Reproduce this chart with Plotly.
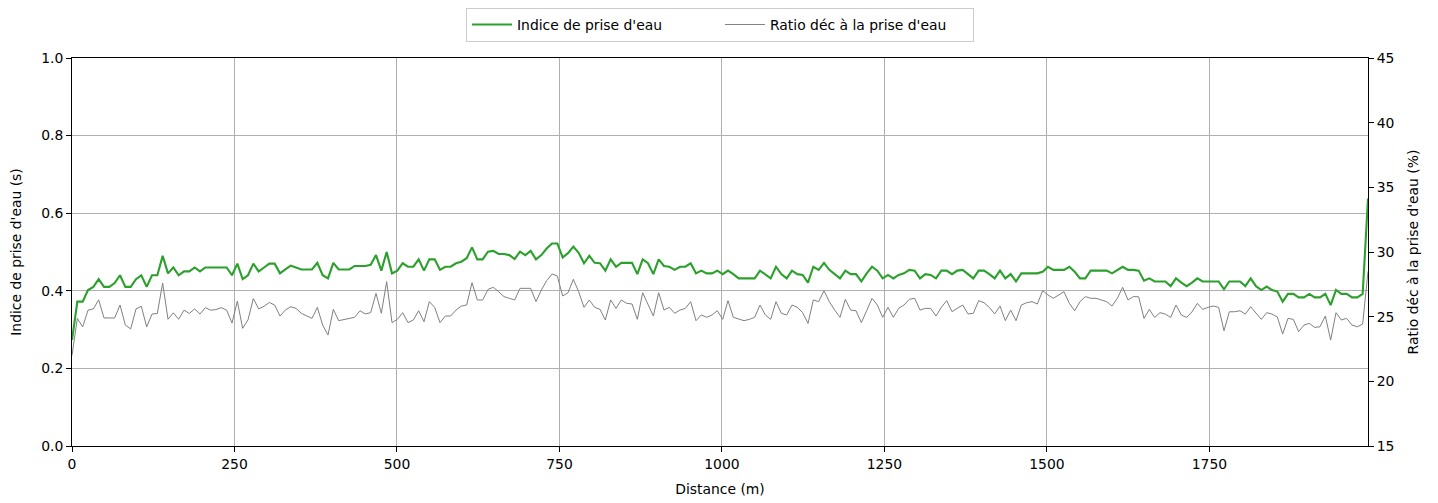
import numpy as np
import plotly.graph_objects as go

# ---- data ----
X_MAX = 1994  # last distance (m)

indice_seg1 = [0.273, 0.372, 0.372, 0.402, 0.41, 0.43, 0.41, 0.41, 0.42, 0.44, 0.41, 0.41, 0.43, 0.44, 0.41,
               0.44, 0.44, 0.49, 0.445, 0.46, 0.44, 0.45, 0.45, 0.46, 0.45, 0.46, 0.46, 0.46, 0.46, 0.46,
               0.44, 0.47, 0.43, 0.44, 0.47, 0.45, 0.46, 0.47, 0.47]
indice_seg2 = [0.445, 0.455, 0.465, 0.46, 0.455, 0.455, 0.455, 0.472, 0.44, 0.432, 0.472, 0.455, 0.455, 0.455,
               0.464, 0.464, 0.464, 0.467, 0.492, 0.452, 0.5, 0.445, 0.452, 0.471, 0.462, 0.462, 0.481, 0.452,
               0.481, 0.481, 0.454, 0.462, 0.462, 0.471, 0.475, 0.484, 0.512, 0.481, 0.481, 0.501]
indice_seg3 = [0.503, 0.495, 0.495, 0.492, 0.482, 0.501, 0.492, 0.503, 0.481, 0.492, 0.509, 0.522, 0.522, 0.486,
               0.497, 0.514, 0.498, 0.471, 0.490, 0.472, 0.471, 0.452, 0.481, 0.462, 0.472, 0.472, 0.472, 0.443,
               0.481, 0.471, 0.443, 0.481, 0.464, 0.462, 0.454, 0.462, 0.462, 0.471, 0.445, 0.452]
indice_seg4 = [0.445, 0.445, 0.452, 0.443, 0.452, 0.443, 0.432, 0.432, 0.432, 0.432, 0.452, 0.443, 0.432, 0.462,
               0.443, 0.432, 0.452, 0.443, 0.441, 0.421, 0.462, 0.454, 0.472, 0.454, 0.443, 0.432, 0.452, 0.443,
               0.443, 0.424, 0.445, 0.462, 0.452, 0.432, 0.441, 0.432, 0.441, 0.445, 0.454, 0.452, 0.432]
indice_seg5 = [0.443, 0.441, 0.432, 0.452, 0.452, 0.443, 0.452, 0.454, 0.443, 0.432, 0.452, 0.452, 0.443, 0.432,
               0.452, 0.432, 0.443, 0.424, 0.445, 0.445, 0.445, 0.445, 0.449, 0.462, 0.454, 0.454, 0.454, 0.462,
               0.449, 0.432, 0.432, 0.452, 0.452, 0.452, 0.452, 0.445, 0.454, 0.462, 0.454, 0.454]
indice_seg6 = [0.452, 0.426, 0.432, 0.424, 0.424, 0.424, 0.412, 0.432, 0.421, 0.412, 0.421, 0.432, 0.424, 0.424,
               0.424, 0.424, 0.404, 0.424, 0.424, 0.424, 0.412, 0.432, 0.412, 0.402, 0.411, 0.402, 0.398, 0.372,
               0.392, 0.392, 0.383, 0.383, 0.392, 0.383, 0.383, 0.392, 0.363, 0.402, 0.392, 0.392, 0.383, 0.383,
               0.392, 0.638]

ratio_seg1 = [22.0, 24.87, 24.2, 25.5, 25.6, 26.3, 24.9, 24.9, 24.9, 25.9, 24.35, 24.05, 25.6, 25.8, 24.2,
              25.2, 25.25, 27.6, 24.8, 25.3, 24.8, 25.5, 25.25, 25.6, 25.2, 25.7, 25.5, 25.55, 25.7, 25.5,
              24.5, 26.2, 24.1, 24.75, 26.4, 25.6, 25.8, 26.1, 25.9]
ratio_seg2 = [25.05, 25.51, 25.77, 25.64, 25.26, 25.05, 24.87, 25.72, 24.35, 23.58, 25.57, 24.69, 24.79, 24.87,
              24.95, 25.46, 25.21, 25.31, 26.80, 25.26, 27.71, 24.54, 24.79, 25.31, 24.54, 24.74, 25.46, 24.61,
              26.16, 25.72, 24.54, 25.05, 25.05, 25.51, 25.82, 25.90, 27.63, 26.29, 26.29, 27.11]
ratio_seg3 = [27.27, 26.93, 26.55, 26.42, 26.29, 27.19, 27.19, 27.19, 26.16, 27.06, 27.78, 28.30, 28.14, 26.60,
              26.85, 27.89, 26.93, 25.72, 26.29, 25.72, 25.57, 24.74, 26.29, 25.64, 26.29, 26.03, 25.98, 24.79,
              26.85, 25.90, 25.05, 26.85, 25.51, 25.72, 25.26, 25.51, 25.64, 26.16, 24.69, 25.13]
ratio_seg4 = [24.95, 25.13, 25.46, 24.79, 26.24, 24.95, 24.79, 24.69, 24.79, 24.95, 25.90, 25.13, 24.79, 26.16,
              25.26, 25.13, 25.90, 25.72, 25.31, 24.48, 26.29, 26.16, 27.01, 26.16, 25.51, 24.95, 26.34, 25.51,
              25.46, 24.54, 25.46, 26.42, 25.90, 24.95, 25.72, 24.95, 25.64, 25.90, 26.34, 26.42, 25.51]
ratio_seg5 = [25.64, 25.64, 25.05, 25.72, 26.24, 25.39, 25.64, 25.90, 25.21, 25.26, 26.24, 26.08, 25.72, 25.21,
              25.82, 24.69, 25.51, 24.69, 25.90, 26.08, 26.16, 25.98, 27.01, 26.67, 26.42, 26.67, 26.93, 26.03,
              25.46, 26.16, 26.55, 26.42, 26.42, 26.29, 26.16, 25.82, 26.42, 27.27, 26.29, 26.55]
ratio_seg6 = [26.54, 24.87, 25.56, 24.94, 25.31, 25.20, 24.94, 25.90, 25.13, 24.94, 25.38, 26.03, 25.56, 25.72,
              25.82, 25.72, 23.91, 25.38, 25.38, 25.46, 25.20, 25.77, 25.31, 24.79, 25.31, 25.20, 24.98, 23.66,
              24.87, 24.79, 23.84, 24.35, 24.48, 24.17, 24.22, 25.05, 23.19, 25.31, 24.74, 24.87, 24.35, 24.22,
              24.43, 28.5]

indice = indice_seg1 + indice_seg2 + indice_seg3 + indice_seg4 + indice_seg5 + indice_seg6
ratio = ratio_seg1 + ratio_seg2 + ratio_seg3 + ratio_seg4 + ratio_seg5 + ratio_seg6
distance = np.linspace(0, X_MAX, len(indice))

FONT = "DejaVu Sans"
FS = 13.9

fig = go.Figure()
fig.add_trace(go.Scatter(x=distance, y=indice, mode="lines", name="Indice de prise d'eau",
                         line=dict(color="#2ca02c", width=2.1), yaxis="y"))
fig.add_trace(go.Scatter(x=distance, y=ratio, mode="lines", name="Ratio déc à la prise d'eau",
                         line=dict(color="#808080", width=1.0), yaxis="y2"))

axis_common = dict(showline=True, linecolor="black", linewidth=1, ticks="outside", ticklen=5,
                   tickcolor="black", tickwidth=1, zeroline=False,
                   tickfont=dict(family=FONT, size=FS, color="black"))

fig.update_layout(
    width=1438, height=503,
    margin=dict(l=72, r=70, t=58, b=57, autoexpand=False),
    paper_bgcolor="white", plot_bgcolor="white",
    font=dict(family=FONT, size=FS, color="black"),
    xaxis=dict(range=[0, X_MAX], tickvals=[0, 250, 500, 750, 1000, 1250, 1500, 1750],
               showgrid=True, gridcolor="#b0b0b0", gridwidth=1, mirror=True,
               title=dict(text="Distance (m)", font=dict(family=FONT, size=FS), standoff=13),
               **axis_common),
    yaxis=dict(range=[0, 1], tickvals=[0, 0.2, 0.4, 0.6, 0.8, 1.0], tickformat=".1f",
               showgrid=True, gridcolor="#b0b0b0", gridwidth=1,
               title=dict(text="Indice de prise d'eau (s)", font=dict(family=FONT, size=FS), standoff=16),
               **axis_common),
    yaxis2=dict(range=[15, 45], tickvals=[15, 20, 25, 30, 35, 40, 45], overlaying="y", side="right",
                showgrid=False,
                title=dict(text="Ratio déc à la prise d'eau (%)", font=dict(family=FONT, size=FS), standoff=14),
                **axis_common),
    legend=dict(orientation="h", x=0.5, xanchor="center", y=1.129, yanchor="top",
                bordercolor="#cccccc", borderwidth=1, bgcolor="white",
                itemwidth=40, entrywidth=198, entrywidthmode="pixels",
                font=dict(family=FONT, size=FS)),
    showlegend=True,
)

fig.write_html("out.html")
